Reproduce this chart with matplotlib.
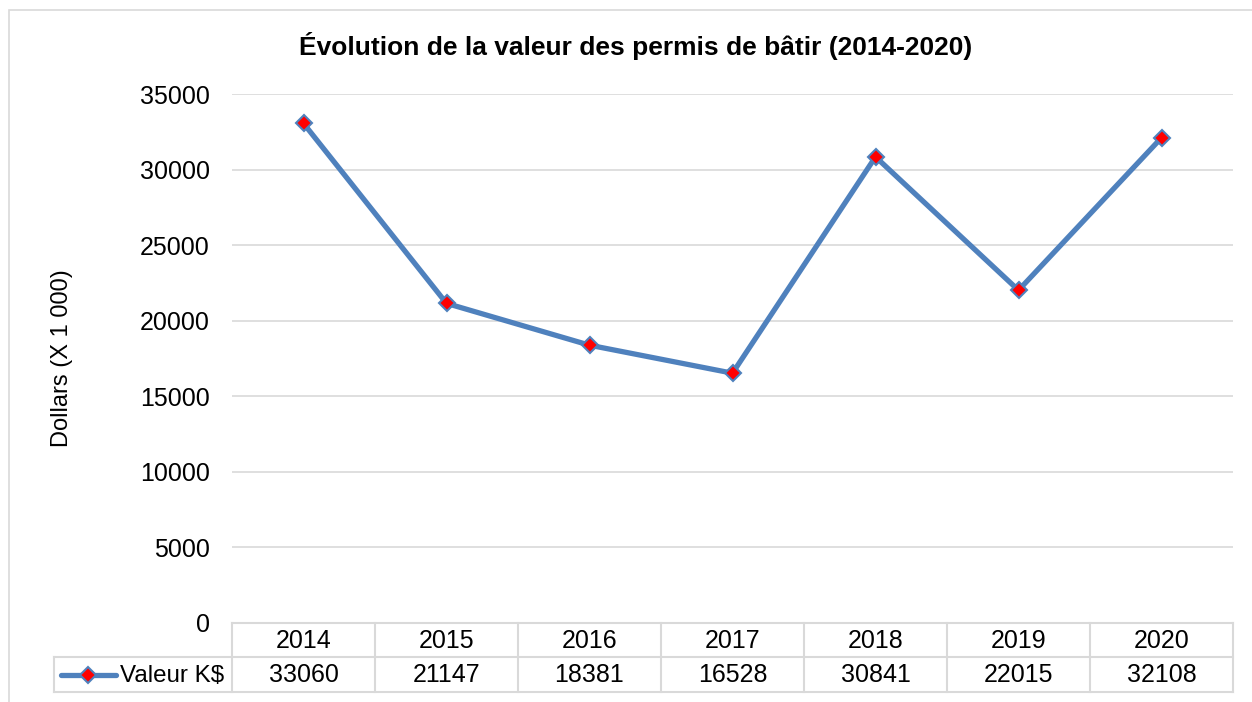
import matplotlib.pyplot as plt
from matplotlib.patches import Rectangle
from matplotlib.lines import Line2D

years = ["2014", "2015", "2016", "2017", "2018", "2019", "2020"]
values = [33060, 21147, 18381, 16528, 30841, 22015, 32108]
series_name = "Valeur K$"
title = "Évolution de la valeur des permis de bâtir (2014-2020)"
y_label = "Dollars (X 1 000)"

W, H = 1252, 702
blue = "#4F81BD"
grid_col = "#D9D9D9"
fs = 18

plt.rcParams["font.family"] = ["Liberation Sans", "DejaVu Sans"]

fig = plt.figure(figsize=(W / 100, H / 100), dpi=100)

# chart frame (cut off on the right and bottom like the source)
fig.patches.append(Rectangle((9 / W, -0.05), 1.2, 1 - 10 / H + 0.05,
                             transform=fig.transFigure, fill=False,
                             edgecolor=grid_col, lw=1.2))

left, right, top, bottom = 232, 1233, 94, 623
ax = fig.add_axes([left / W, 1 - bottom / H, (right - left) / W, (bottom - top) / H])

x = list(range(len(years)))
ax.plot(x, values, color=blue, lw=3.8, marker="D", markersize=8,
        markerfacecolor="red", markeredgecolor=blue, markeredgewidth=1.5,
        solid_capstyle="round", zorder=3)

ax.set_xlim(-0.5, len(years) - 0.5)
ax.set_ylim(0, 35000)
ax.set_yticks(range(0, 35001, 5000))
ax.set_xticks([])
ax.tick_params(axis="y", length=0, pad=16, labelsize=fs)
ax.grid(axis="y", color=grid_col, lw=1.2)
ax.set_axisbelow(True)
for s in ax.spines.values():
    s.set_visible(False)

fig.text(62 / W, 1 - 358 / H, y_label, ha="center", va="center",
         rotation=90, fontsize=17)
fig.text(636 / W, 1 - 46 / H, title, ha="center", va="center",
         fontsize=19, fontweight="bold")

# data table under the plot
row1_bot, row2_bot, leg_left = 657, 692, 54
def fy(py):
    return 1 - py / H

tbl = dict(color=grid_col, lw=1.5, transform=fig.transFigure, clip_on=False)
fig.lines.append(Line2D([left / W, right / W], [fy(bottom)] * 2, **tbl))
fig.lines.append(Line2D([leg_left / W, right / W], [fy(row1_bot)] * 2, **tbl))
fig.lines.append(Line2D([leg_left / W, right / W], [fy(row2_bot)] * 2, **tbl))
fig.lines.append(Line2D([leg_left / W] * 2, [fy(row1_bot), fy(row2_bot)], **tbl))
col_w = (right - left) / len(years)
for i in range(len(years) + 1):
    xp = left + i * col_w
    fig.lines.append(Line2D([xp / W] * 2, [fy(bottom), fy(row2_bot)], **tbl))

for i, (yr, v) in enumerate(zip(years, values)):
    xc = (left + (i + 0.5) * col_w) / W
    fig.text(xc, fy((bottom + row1_bot) / 2 + 1), yr, ha="center", va="center", fontsize=fs)
    fig.text(xc, fy((row1_bot + row2_bot) / 2 + 1), str(v), ha="center", va="center", fontsize=fs)

# legend key in the table
ly = fy((row1_bot + row2_bot) / 2)
fig.lines.append(Line2D([61 / W, 116 / W], [ly, ly], color=blue, lw=3.8,
                        solid_capstyle="round", transform=fig.transFigure))
fig.lines.append(Line2D([88 / W], [ly], marker="D", markersize=8,
                        markerfacecolor="red", markeredgecolor=blue,
                        markeredgewidth=1.5, transform=fig.transFigure))
fig.text(120 / W, fy((row1_bot + row2_bot) / 2 + 1), series_name,
         ha="left", va="center", fontsize=17.4)

fig.savefig("out.png", dpi=100)
